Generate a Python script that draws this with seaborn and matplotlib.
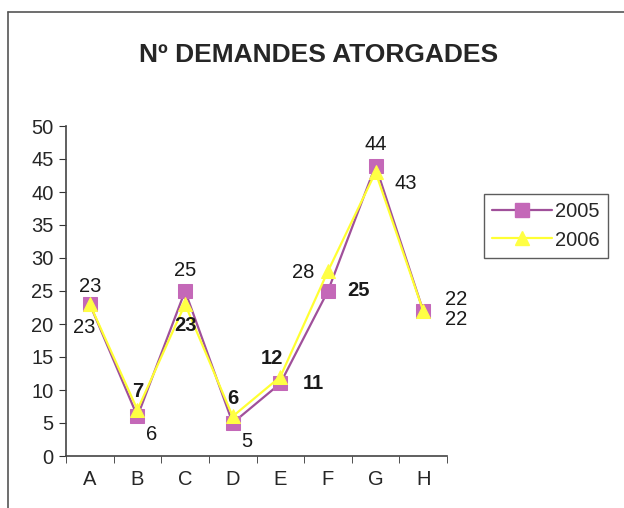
import numpy as np
import pandas as pd
import matplotlib
matplotlib.use("Agg")
import matplotlib.pyplot as plt
from matplotlib.lines import Line2D
import seaborn as sns

categories = ["A", "B", "C", "D", "E", "F", "G", "H"]
vals_2005 = [23, 6, 25, 5, 11, 25, 44, 22]
vals_2006 = [23, 7, 23, 6, 12, 28, 43, 22]
series_names = ["2005", "2006"]
title = "Nº DEMANDES ATORGADES"

# label offsets in points (Excel put them all over the place)
off_2005 = [(0, 13), (10, -13), (0, 15), (10, -13), (24, 0), (22, 0), (0, 15), (24, 8)]
off_2006 = [(-4, -17), (0, 13), (0, -15), (0, 13), (-6, 13), (-18, -1), (22, -8), (24, -6)]
bold_2005 = [False, False, False, False, True, True, False, False]
bold_2006 = [False, True, True, True, True, False, False, False]

sns.set_style("white")
plt.rcParams["font.family"] = ["Liberation Sans", "DejaVu Sans"]

df = pd.DataFrame({
    "cat": categories * 2,
    "val": vals_2005 + vals_2006,
    "year": [series_names[0]] * 8 + [series_names[1]] * 8,
})

line_cols = {"2005": "#a0509a", "2006": "#ffff33"}
face_cols = {"2005": "#c468b8", "2006": "#ffff44"}

fig = plt.figure(figsize=(6.24, 5.08), dpi=100)
ax = fig.add_axes([66 / 624, 1 - 456 / 508, (447 - 66) / 624, (456 - 126) / 508])

for yr, mk in zip(series_names, ["s", "^"]):
    sub = df[df["year"] == yr]
    sns.lineplot(data=sub, x="cat", y="val", ax=ax, color=line_cols[yr], lw=1.6,
                 marker=mk, markersize=10, markerfacecolor=face_cols[yr],
                 markeredgecolor=face_cols[yr], sort=False, legend=False)

for vals, offs, bolds in [(vals_2005, off_2005, bold_2005), (vals_2006, off_2006, bold_2006)]:
    for c, v, o, b in zip(categories, vals, offs, bolds):
        ax.annotate(str(v), (c, v), xytext=o, textcoords="offset points",
                    ha="center", va="center", fontsize=14.5, color="#1a1a1a",
                    fontweight="bold" if b else "normal")

ax.set_xlim(-0.5, len(categories) - 0.5)
ax.set_ylim(0, 50)
ax.set_yticks(range(0, 51, 5))
ax.set_xticks(range(len(categories)))
ax.set_xticks(np.arange(-0.5, len(categories), 1), minor=True)
ax.tick_params(axis="x", which="major", length=0, labelsize=14.5, pad=10)
ax.tick_params(axis="x", which="minor", length=5, direction="out", color="#333333", bottom=True)
ax.tick_params(axis="y", length=5, direction="out", color="#333333", labelsize=14.5, left=True, pad=4)
ax.set_xlabel("")
ax.set_ylabel("")
for s in ["top", "right"]:
    ax.spines[s].set_visible(False)
for s in ["left", "bottom"]:
    ax.spines[s].set_color("#444444")
    ax.spines[s].set_linewidth(1.2)

fig.text(319 / 624, 1 - 55 / 508, title, ha="center", va="center",
         fontsize=19, fontweight="bold")

handles = [Line2D([], [], color=line_cols[y], lw=1.6, marker=m, markersize=10,
                  markerfacecolor=face_cols[y], markeredgecolor=face_cols[y])
           for y, m in zip(series_names, ["s", "^"])]
leg = fig.legend(handles, series_names, loc="center", bbox_to_anchor=(546 / 624, 1 - 226 / 508),
                 frameon=True, fancybox=False, fontsize=14.5, handlelength=3.0,
                 borderpad=0.4, labelspacing=0.45, handletextpad=0.15, borderaxespad=0)
leg.get_frame().set_edgecolor("#333333")
leg.get_frame().set_linewidth(1.0)

# outer chart border (top and left only visible in the scan)
fig.add_artist(Line2D([8 / 624, 8 / 624], [0, 1 - 12 / 508], transform=fig.transFigure,
                      color="#555555", lw=1.2))
fig.add_artist(Line2D([8 / 624, 1], [1 - 12 / 508, 1 - 12 / 508], transform=fig.transFigure,
                      color="#555555", lw=1.2))

fig.savefig("out.png", dpi=100)
